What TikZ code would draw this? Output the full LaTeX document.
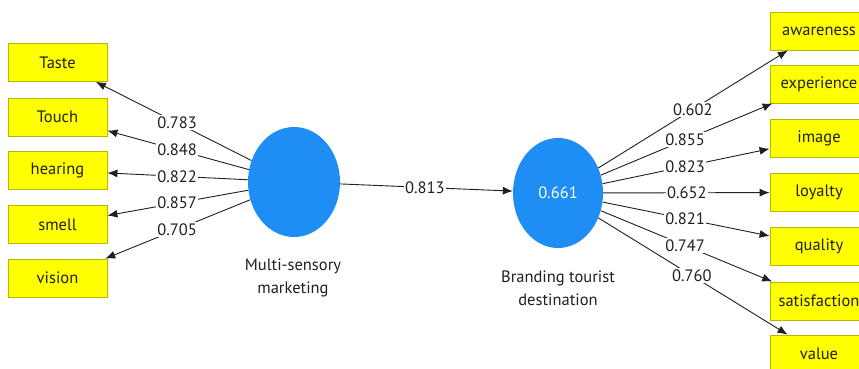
\documentclass[tikz,border=0pt]{standalone}
\usepackage{fontspec}
\setmainfont{PT Sans}
\usetikzlibrary{arrows.meta,shapes.geometric,calc}
\definecolor{ind}{HTML}{FFFF00}
\definecolor{indline}{HTML}{B8B800}
\definecolor{lv}{HTML}{1E8EF4}
\definecolor{ink}{HTML}{202020}
\begin{document}
\begin{tikzpicture}[x=1pt,y=-1pt,
  indbox/.style={draw=indline,fill=ind,line width=0.8pt,minimum width=99pt,minimum height=38pt,inner sep=0pt,font=\fontsize{16.5}{18}\selectfont,text=ink},
  latent/.style={ellipse,fill=lv,draw=none,inner sep=0pt,font=\fontsize{16.5}{18}\selectfont,text=white},
  load/.style={draw=ink,line width=0.9pt,-{Latex[length=10pt,width=8pt]}},
  wlabel/.style={fill=white,inner sep=1.5pt,font=\fontsize{16.5}{18}\selectfont,text=ink},
  caption/.style={align=center,font=\fontsize{16.5}{23}\selectfont,text=ink}]
\useasboundingbox (0,0) rectangle (859,369);
\clip (0,0) rectangle (859,369);
\fill[white] (0,0) rectangle (859,369);

% latent variables
\node[latent,minimum width=92pt,minimum height=110pt] (mc) at (294,182) {};
\node[latent,minimum width=90pt,minimum height=110pt] (bt) at (558,193) {0.661};
\node[caption] (mcl) at (293,278) {Multi-sensory\\marketing};
\node[caption] (btl) at (558,288) {Branding tourist\\destination};

% indicators of multi-sensory marketing
\node[indbox] (taste) at (57.5,62.5) {Taste};
\node[indbox] (touch) at (57.5,117) {Touch};
\node[indbox] (hear)  at (57.5,170.5) {hearing};
\node[indbox] (smell) at (57.5,224.5) {smell};
\node[indbox] (vis)   at (57.5,278) {vision};

% indicators of branding tourist destination
\node[indbox,minimum width=98pt] (aw)  at (819,31) {awareness};
\node[indbox,minimum width=98pt] (ex)  at (819,84) {experience};
\node[indbox,minimum width=98pt] (im)  at (819,138.5) {image};
\node[indbox,minimum width=98pt] (lo)  at (819,192.5) {loyalty};
\node[indbox,minimum width=98pt] (qu)  at (819,246) {quality};
\node[indbox,minimum width=98pt] (sa)  at (819,301) {satisfaction};
\node[indbox,minimum width=98pt] (va)  at (819,354) {value};

% outer loadings
\foreach \t in {taste,touch,hear,smell,vis} \draw[load] (mc) -- (\t);
\foreach \t in {aw,ex,im,lo,qu,sa,va} \draw[load] (bt) -- (\t);
\draw[load] (mc) -- (bt);

% coefficients
\path (mc.center) -- (taste.center) node[wlabel,pos=0.494] {0.783};
\path (mc.center) -- (touch.center) node[wlabel,pos=0.494] {0.848};
\path (mc.center) -- (hear.center)  node[wlabel,pos=0.494] {0.822};
\path (mc.center) -- (smell.center) node[wlabel,pos=0.494] {0.857};
\path (mc.center) -- (vis.center)   node[wlabel,pos=0.494] {0.705};
\path (mc.center) -- (bt.center)    node[wlabel,pos=0.496] {0.813};
\path (bt.center) -- (aw.center) node[wlabel,pos=0.517] {0.602};
\path (bt.center) -- (ex.center) node[wlabel,pos=0.487] {0.855};
\path (bt.center) -- (im.center) node[wlabel,pos=0.487] {0.823};
\path (bt.center) -- (lo.center) node[wlabel,pos=0.494] {0.652};
\path (bt.center) -- (qu.center) node[wlabel,pos=0.487] {0.821};
\path (bt.center) -- (sa.center) node[wlabel,pos=0.487] {0.747};
\path (bt.center) -- (va.center) node[wlabel,pos=0.513] {0.760};
\end{tikzpicture}
\end{document}
